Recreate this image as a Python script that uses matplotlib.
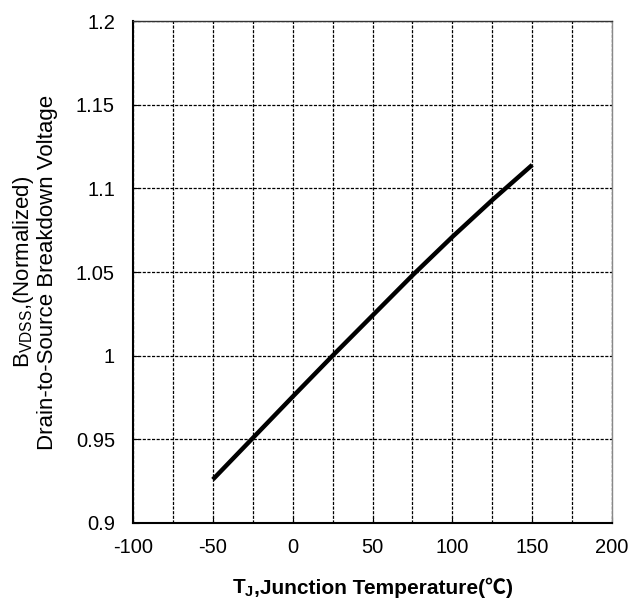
import matplotlib as mpl
from matplotlib import pyplot as plt
from matplotlib.offsetbox import TextArea, HPacker, AnnotationBbox
import numpy as np

mpl.rcParams.update({
    'font.family': ['Liberation Sans', 'DejaVu Sans'],
    'mathtext.fontset': 'custom',
    'mathtext.rm': 'Liberation Sans',
    'mathtext.bf': 'Liberation Sans:bold',
    'axes.unicode_minus': False,
    'font.size': 14,
})

# junction temperature [degC] vs normalized breakdown voltage
temp = [-50, 0, 25, 50, 75, 100, 125, 150]
bvdss = [0.926, 0.9755, 1.000, 1.024, 1.048, 1.071, 1.093, 1.114]

x_ticks = [-100, -50, 0, 50, 100, 150, 200]
y_ticks = [0.9, 0.95, 1.0, 1.05, 1.1, 1.15, 1.2]
y_tick_labels = ['0.9', '0.95', '1', '1.05', '1.1', '1.15', '1.2']

fig = plt.figure(figsize=(6.41, 6.01), dpi=100)
ax = fig.add_axes([0.2075, 0.1298, 0.7473, 0.8352])

ax.set_xlim(-100, 200)
ax.set_ylim(0.9, 1.2)
ax.set_xticks(x_ticks)
ax.set_xticks(np.arange(-100, 201, 25), minor=True)
ax.set_yticks(y_ticks)
ax.set_yticklabels(y_tick_labels)

ax.grid(True, which='both', color='black', linestyle=(0, (2.5, 1.2)), linewidth=0.9)
ax.set_axisbelow(True)
ax.tick_params(which='both', direction='in', length=4, color='black', labelsize=14.5)
ax.tick_params(axis='x', pad=10.5)
ax.tick_params(axis='y', pad=13)
ax.tick_params(which='minor', length=0)

ax.plot(temp, bvdss, color='black', linewidth=3.2, solid_capstyle='butt')

for side in ['left', 'bottom']:
    ax.spines[side].set_linewidth(1.5)
    ax.spines[side].set_color('black')
ax.spines['top'].set_linewidth(1.0)
ax.spines['top'].set_color('#333333')
ax.spines['right'].set_linewidth(1.0)
ax.spines['right'].set_color('#888888')

# x label: T with subscript J, rest as plain text so the degree-C sign can fall back
xl_sym = TextArea('T$_{\\mathbf{J}}$', textprops=dict(fontsize=15, fontweight='bold'))
xl_rest = TextArea(',Junction Temperature(\u2103)',
                   textprops=dict(fontsize=15, fontweight='bold',
                                  family=['Liberation Sans', 'Noto Sans CJK SC']))
xl_box = HPacker(children=[xl_sym, xl_rest], align='baseline', pad=0, sep=0)
ab = AnnotationBbox(xl_box, (0.5, -0.108), xycoords='axes fraction',
                    box_alignment=(0.5, 1.0), frameon=False, pad=0)
ax.add_artist(ab)

ax.set_ylabel('B$_{\\mathrm{VDSS}}$,(Normalized)\nDrain-to-Source Breakdown Voltage',
              fontsize=16, linespacing=1.05)
ax.yaxis.set_label_coords(-0.157, 0.5)

fig.savefig('out.png', dpi=100)
